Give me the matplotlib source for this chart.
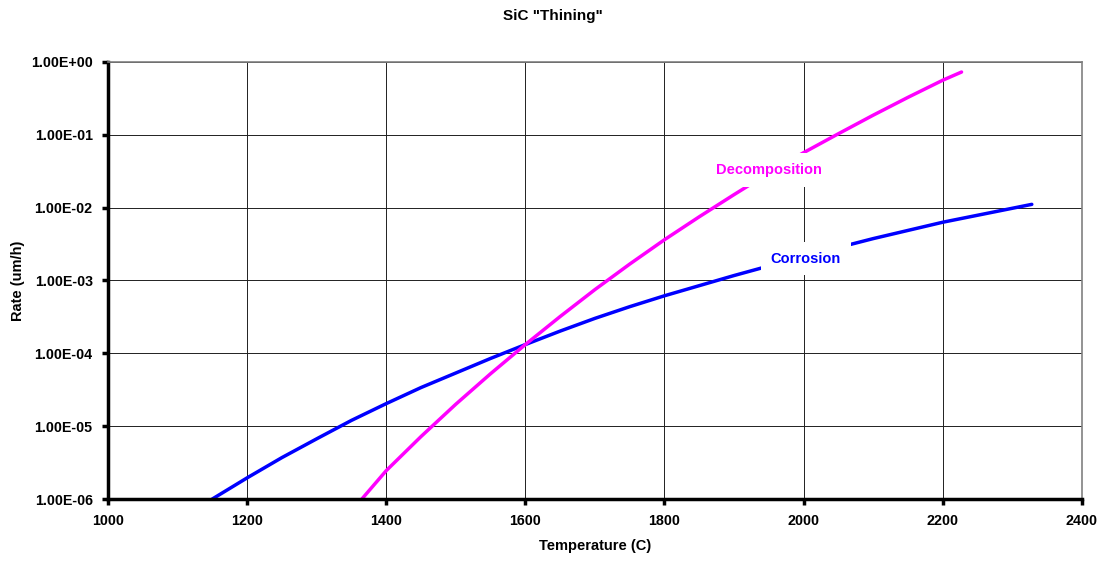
import matplotlib
matplotlib.use('Agg')
import matplotlib.pyplot as plt
from matplotlib.ticker import FuncFormatter, FixedLocator, NullLocator

plt.rcParams['font.family'] = ['Liberation Sans', 'DejaVu Sans']
plt.rcParams['font.weight'] = 'bold'

# Corrosion rate (um/h) vs temperature (C)
corr_T = [1150, 1200, 1250, 1300, 1350, 1400, 1450, 1500, 1550, 1600, 1650, 1700,
          1750, 1800, 1900, 2000, 2100, 2200, 2328]
corr_r = [1.0e-6, 1.95e-6, 3.7e-6, 6.7e-6, 1.2e-5, 2.04e-5, 3.39e-5, 5.37e-5, 8.51e-5,
          1.32e-4, 2.02e-4, 3.02e-4, 4.37e-4, 6.17e-4, 1.17e-3, 2.14e-3, 3.76e-3,
          6.31e-3, 1.11e-2]

# Decomposition rate (um/h) vs temperature (C)
dec_T = [1365, 1400, 1450, 1500, 1550, 1600, 1650, 1700, 1750, 1800, 1850, 1900,
         1950, 2000, 2050, 2100, 2150, 2200, 2227]
dec_r = [1.0e-6, 2.45e-6, 7.2e-6, 2.0e-5, 5.25e-5, 1.32e-4, 3.2e-4, 7.5e-4, 1.68e-3,
         3.63e-3, 7.5e-3, 1.51e-2, 2.99e-2, 5.69e-2, 0.1035, 0.186, 0.327, 0.562, 0.728]

yticks = [1e-6, 1e-5, 1e-4, 1e-3, 1e-2, 1e-1, 1e0]
xticks = [1000, 1200, 1400, 1600, 1800, 2000, 2200, 2400]

fig = plt.figure(figsize=(11.06, 5.61), dpi=100)
ax = fig.add_axes([0.0976, 0.1105, 0.8806, 0.779])

ax.plot(corr_T, corr_r, color='#0000ff', lw=2.5, solid_capstyle='round', solid_joinstyle='round')
ax.plot(dec_T, dec_r, color='#ff00ff', lw=2.5, solid_capstyle='round', solid_joinstyle='round')

ax.set_yscale('log')
ax.set_xlim(1000, 2400)
ax.set_ylim(1e-6, 1e0)
ax.yaxis.set_major_locator(FixedLocator(yticks))
ax.yaxis.set_minor_locator(NullLocator())
ax.yaxis.set_major_formatter(FuncFormatter(lambda v, p: f"{v:.2E}"))
ax.set_xticks(xticks)

ax.grid(True, color='#202020', lw=0.7)
ax.set_axisbelow(True)

for s in ['left', 'bottom']:
    ax.spines[s].set_linewidth(2.5)
    ax.spines[s].set_color('black')
for s in ['top', 'right']:
    ax.spines[s].set_linewidth(1.2)
    ax.spines[s].set_color('#808080')

ax.tick_params(axis='both', direction='out', length=4, width=2.5, labelsize=10.3)
ax.tick_params(axis='y', pad=7)
ax.tick_params(axis='x', pad=7)

ax.text(1950, 3.3e-2, 'Decomposition', color='#ff00ff', fontsize=10.5, fontweight='bold',
        ha='center', va='center', zorder=5,
        bbox=dict(facecolor='white', edgecolor='none', pad=7))
ax.text(2003, 2.0e-3, 'Corrosion', color='#0000ff', fontsize=10.5, fontweight='bold',
        ha='center', va='center', zorder=5,
        bbox=dict(facecolor='white', edgecolor='none', pad=7))

fig.text(0.5, 0.972, 'SiC "Thining"', ha='center', va='center', fontsize=11, fontweight='bold')
ax.set_xlabel('Temperature (C)', fontsize=10.5, fontweight='bold', labelpad=8)
ax.set_ylabel('Rate (um/h)', fontsize=10.5, fontweight='bold', labelpad=4)

fig.savefig('out.png', dpi=100)
